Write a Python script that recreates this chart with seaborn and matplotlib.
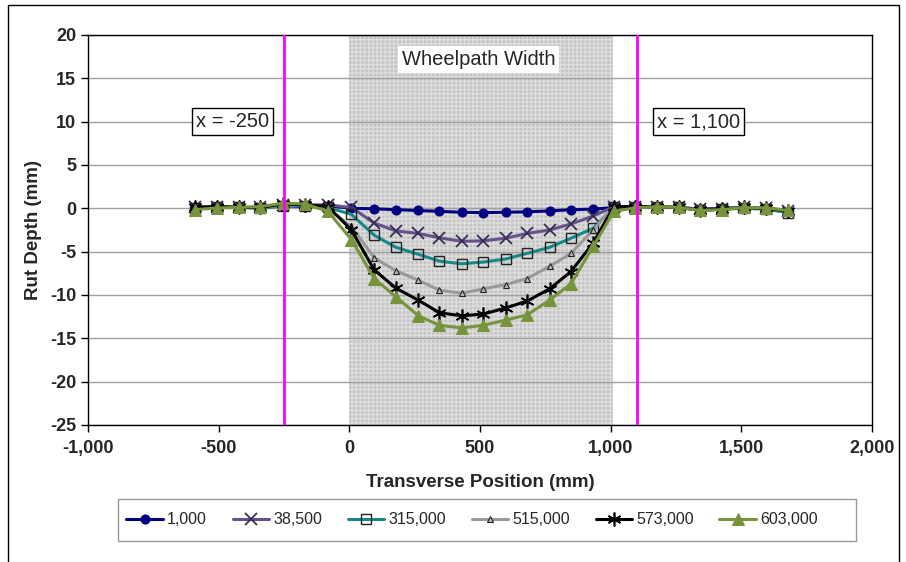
import matplotlib
matplotlib.use("Agg")
import matplotlib.pyplot as plt
import matplotlib.patches as mpatches
from matplotlib.ticker import FuncFormatter, MultipleLocator
import seaborn as sns

sns.set_style("white")
plt.rcParams['font.family'] = ['Liberation Sans', 'DejaVu Sans']
plt.rcParams['axes.unicode_minus'] = False

# transverse positions (mm)
position = [-590, -507, -424, -340, -254, -168, -82,
            8, 95, 178, 264, 345, 430, 512, 598, 680, 766, 848, 933, 1012,
            1093, 1178, 1260, 1343, 1426, 1510, 1594, 1680]

# rut depth (mm) per load repetition count
rut_1000 = [0.1, 0.2, 0.1, 0.1, 0.3, 0.2, 0.3,
            0.0, -0.05, -0.15, -0.25, -0.35, -0.45, -0.5, -0.45, -0.4, -0.3, -0.15, -0.1, 0.1,
            0.2, 0.1, 0.1, -0.1, 0.0, 0.1, 0.0, -0.4]
rut_38500 = [0.1, 0.2, 0.1, 0.1, 0.4, 0.4, 0.4,
             0.1, -1.7, -2.6, -2.9, -3.4, -3.8, -3.75, -3.45, -2.9, -2.5, -1.8, -0.9, 0.2,
             0.2, 0.2, 0.1, -0.1, -0.1, 0.1, 0.0, -0.3]
rut_315000 = [0.0, 0.1, 0.1, 0.0, 0.3, 0.3, 0.1,
              -0.7, -3.1, -4.5, -5.3, -6.1, -6.4, -6.2, -5.85, -5.2, -4.5, -3.45, -2.3, 0.1,
              0.2, 0.1, 0.1, -0.2, -0.1, 0.0, -0.1, -0.5]
rut_515000 = [0.0, 0.1, 0.1, 0.1, 0.4, 0.4, 0.0,
              -2.1, -5.7, -7.2, -8.3, -9.45, -9.8, -9.3, -8.8, -8.1, -6.7, -5.2, -2.5, 0.2,
              0.2, 0.1, 0.1, -0.2, -0.1, 0.1, 0.0, -0.2]
rut_573000 = [0.1, 0.2, 0.1, 0.1, 0.5, 0.4, 0.2,
              -2.5, -7.1, -9.2, -10.6, -12.05, -12.4, -12.2, -11.5, -10.7, -9.3, -7.3, -4.0, 0.2,
              0.2, 0.2, 0.1, -0.2, -0.1, 0.1, 0.0, -0.3]
rut_603000 = [-0.15, 0.05, 0.1, 0.2, 0.6, 0.5, -0.35,
              -3.6, -8.1, -10.2, -12.4, -13.5, -13.8, -13.5, -12.9, -12.3, -10.6, -8.7, -4.4, -0.35,
              0.05, 0.2, 0.1, -0.25, -0.15, 0.1, 0.05, -0.25]

labels = ["1,000", "38,500", "315,000", "515,000", "573,000", "603,000"]
series = [rut_1000, rut_38500, rut_315000, rut_515000, rut_573000, rut_603000]

styles = [
    dict(color='#000080', marker='o', markersize=6.5, markerfacecolor='#000080', markeredgecolor='#000080'),
    dict(color='#65528a', marker='x', markersize=9, markeredgewidth=1.3, markeredgecolor='#3a2d55'),
    dict(color='#128a8a', marker='s', markersize=7, markerfacecolor='none', markeredgecolor='#222222', markeredgewidth=1.0),
    dict(color='#999999', marker='^', markersize=4, markerfacecolor='#bbbbbb', markeredgecolor='#222222', markeredgewidth=0.8),
    dict(color='#000000', marker=(6, 2, 0), markersize=10, markeredgewidth=1.2, markeredgecolor='#000000'),
    dict(color='#77933c', marker='^', markersize=8.5, markerfacecolor='#77933c', markeredgecolor='#77933c'),
]

fig = plt.figure(figsize=(9.06, 5.62), dpi=100)
ax = fig.add_axes([88 / 906, 1 - 425 / 562, 784 / 906, 390 / 562])

# wheelpath shading
ax.axvspan(0, 1010, facecolor='#c4c4c4', edgecolor='#dedede', hatch='++++', lw=0, zorder=0.2)

for lab, vals, st in zip(labels, series, styles):
    sns.lineplot(x=position, y=vals, ax=ax, label=lab, linewidth=2.2, zorder=3, **st)

ax.axvline(-250, color='#ff00ff', lw=2, zorder=4)
ax.axvline(1100, color='#ff00ff', lw=2, zorder=4)

box = dict(boxstyle='square,pad=0.2', fc='white', ec='black', lw=1)
ax.text(-448, 10, "x = -250", ha='center', va='center', fontsize=14.5, bbox=box, zorder=5)
ax.text(1336, 10, "x = 1,100", ha='center', va='center', fontsize=14.5, bbox=box, zorder=5)
ax.text(494, 17.2, "Wheelpath Width", ha='center', va='center', fontsize=14.5,
        bbox=dict(boxstyle='square,pad=0.2', fc='white', ec='none'), zorder=5)

ax.set_xlim(-1000, 2000)
ax.set_ylim(-25, 20)
ax.xaxis.set_major_locator(MultipleLocator(500))
ax.yaxis.set_major_locator(MultipleLocator(5))
ax.xaxis.set_major_formatter(FuncFormatter(lambda v, p: f"{v:,.0f}"))
ax.set_axisbelow(True)
ax.grid(axis='y', color='#a0a0a0', lw=1)
ax.grid(axis='x', visible=False)
for s in ax.spines.values():
    s.set_color('black')
    s.set_linewidth(1)
ax.tick_params(axis='both', direction='out', length=5, width=1, color='black',
               labelsize=13, bottom=True, left=True)
ax.tick_params(axis='x', pad=6)
for t in ax.get_xticklabels() + ax.get_yticklabels():
    t.set_fontweight('bold')

ax.set_xlabel("Transverse Position (mm)", fontsize=13.5, fontweight='bold', labelpad=12)
ax.set_ylabel("Rut Depth (mm)", fontsize=13.5, fontweight='bold', labelpad=6)

ax.legend(loc='center left', bbox_to_anchor=(112 / 906, 1 - 520 / 562), bbox_transform=fig.transFigure,
          ncol=6, frameon=False, fontsize=11.5,
          handlelength=2.3, columnspacing=1.6, handletextpad=0.25)

# legend frame and outer chart border
fig.patches.append(mpatches.Rectangle((118 / 906, 1 - 541 / 562), 738 / 906, 42 / 562,
                                      transform=fig.transFigure, fill=False, ec='#999999', lw=1))
fig.patches.append(mpatches.Rectangle((8 / 906, -0.05), 891 / 906, 1.05 - 5 / 562,
                                      transform=fig.transFigure, fill=False, ec='black', lw=1))

fig.savefig("out.png", dpi=100)
